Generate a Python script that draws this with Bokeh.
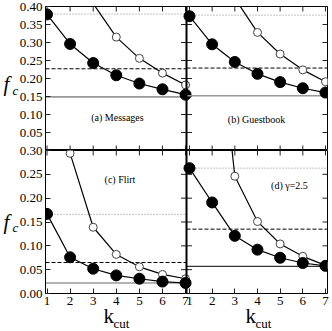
import math
from bokeh.plotting import figure
from bokeh.models import Range1d, LinearAxis, FixedTicker, PrintfTickFormatter, Label, Span
from bokeh.layouts import column, row
from bokeh.embed import file_html
from bokeh.resources import INLINE

# ---------------- data ----------------
k = [1, 2, 3, 4, 5, 6, 7]
x_ticks = [1, 2, 3, 4, 5, 6, 7]
top_yticks = [0.05, 0.10, 0.15, 0.20, 0.25, 0.30, 0.35, 0.40]
bottom_yticks = [0.00, 0.05, 0.10, 0.15, 0.20, 0.25, 0.30]

# (a) Messages
a_filled = [0.378, 0.296, 0.243, 0.209, 0.186, 0.170, 0.155]
a_open_k = [3, 4, 5, 6, 7]
a_open = [0.408, 0.315, 0.256, 0.215, 0.182]
a_refs = [0.379, 0.227, 0.149]          # dotted, dashed, solid

# (b) Guestbook
b_filled = [0.373, 0.295, 0.246, 0.213, 0.190, 0.173, 0.161]
b_open_k = [3, 4, 5, 6, 7]
b_open = [0.423, 0.328, 0.268, 0.224, 0.191]
b_refs = [0.376, 0.229, 0.152]

# (c) Flirt
c_filled = [0.167, 0.076, 0.052, 0.038, 0.031, 0.025, 0.022]
c_open_k = [2, 3, 4, 5, 6, 7]
c_open = [0.294, 0.139, 0.082, 0.056, 0.040, 0.031]
c_refs = [0.166, 0.065, 0.022]

# (d) gamma = 2.5
d_filled = [0.263, 0.191, 0.121, 0.092, 0.075, 0.064, 0.058]
d_open_k = [2, 3, 4, 5, 6, 7]
d_open = [0.69, 0.246, 0.151, 0.104, 0.078, 0.059]
d_refs = [0.263, 0.135, 0.057]

labels = ["(a) Messages", "(b) Guestbook", "(c) Flirt", "(d) \u03b3=2.5"]

# ---------------- layout ----------------
SERIF = "Liberation Serif"
L_panel = (0.935, 7.04)
R_panel = (0.868, 7.09)
L_full = (L_panel[0], L_panel[0] + 2 * (L_panel[1] - L_panel[0]))
R_full = (R_panel[0] - (R_panel[1] - R_panel[0]), R_panel[1])


def to_left(v):
    f = (v - R_full[0]) / (R_full[1] - R_full[0])
    return round(L_full[0] + f * (L_full[1] - L_full[0]), 6)


right_tick_pos = [to_left(t) for t in x_ticks]
all_xt = [float(t) for t in x_ticks] + right_tick_pos
xt_overrides = {float(t): str(t) for t in x_ticks}
xt_overrides.update({pos: str(t) for pos, t in zip(right_tick_pos, x_ticks)})

TICK = "#222222"


def style_axis(ax):
    ax.axis_line_color = "black"
    ax.axis_line_width = 1
    ax.major_tick_in = 5
    ax.major_tick_out = 0
    ax.minor_tick_line_color = None
    ax.major_tick_line_color = TICK
    ax.major_label_text_font = SERIF
    ax.major_label_text_font_size = "13px"
    ax.major_label_standoff = 3
    ax.major_label_text_color = "black"


def draw_panel(p, rn, panel, filled, open_k, open_v, refs, solid_color, solid_w,
               text, tx, ty, ymax):
    x0 = [panel[0]]
    x1 = [panel[1]]
    p.segment(x0=x0, x1=x1, y0=[refs[0]], y1=[refs[0]], x_range_name=rn,
              line_color="#888888", line_width=1, line_dash="1 2")
    p.segment(x0=x0, x1=x1, y0=[refs[1]], y1=[refs[1]], x_range_name=rn,
              line_color="black", line_width=1, line_dash="4 2")
    p.segment(x0=x0, x1=x1, y0=[refs[2]], y1=[refs[2]], x_range_name=rn,
              line_color=solid_color, line_width=solid_w)
    p.line(open_k, open_v, x_range_name=rn, line_color="black", line_width=1.2)
    p.line(k, filled, x_range_name=rn, line_color="black", line_width=1.2)
    vis = [(kk, v) for kk, v in zip(open_k, open_v) if v <= ymax]
    p.scatter([q[0] for q in vis], [q[1] for q in vis], x_range_name=rn,
              marker="circle", size=8, fill_color="white", line_color="#444444",
              line_width=1)
    p.scatter(k, filled, x_range_name=rn, marker="circle", size=11,
              fill_color="black", line_color="black")
    p.add_layout(Label(x=tx, y=ty, x_range_name=rn, text=text, text_font=SERIF,
                       text_font_size="10px", text_align="center",
                       text_baseline="middle", text_color="black"))


def edge_ticks(p, ymax, yticks, bottom_axis):
    ys = [ymax] if bottom_axis else [ymax, 0.0]
    for yy in ys:
        for rn in ("default", "R"):
            p.scatter(x_ticks, [yy] * len(x_ticks), x_range_name=rn, marker="dash",
                      angle=math.pi / 2, size=10, line_color=TICK, line_width=1)
    p.scatter([R_panel[1]] * len(yticks), yticks, x_range_name="R", marker="dash",
              size=10, line_color=TICK, line_width=1)
    p.scatter([L_panel[1]] * len(yticks), yticks, marker="dash", size=11,
              line_color=TICK, line_width=1)


def make_row(ymax, yticks, frame_h, top_b, bottom_b, margin, is_bottom):
    p = figure(frame_width=282, frame_height=frame_h,
               x_range=Range1d(*L_full), y_range=Range1d(0, ymax),
               x_axis_type=None, y_axis_type=None,
               output_backend="svg", toolbar_location=None,
               min_border_left=29, min_border_right=3,
               min_border_top=top_b, min_border_bottom=bottom_b,
               margin=margin)
    p.extra_x_ranges = {"R": Range1d(*R_full)}
    p.outline_line_color = "black"
    p.background_fill_color = "white"
    p.border_fill_color = None
    if is_bottom:
        below = LinearAxis(ticker=FixedTicker(ticks=all_xt),
                           major_label_overrides=xt_overrides)
        style_axis(below)
        p.add_layout(below, "below")
    left = LinearAxis(ticker=FixedTicker(ticks=yticks),
                      formatter=PrintfTickFormatter(format="%.2f"))
    style_axis(left)
    p.add_layout(left, "left")

    p.add_layout(Span(location=L_panel[1], dimension="height",
                      line_color="black", line_width=2))
    edge_ticks(p, ymax, yticks, is_bottom)
    return p


def text_strip(w, h, margin, **borders):
    s = figure(frame_width=w, frame_height=h, x_range=Range1d(0, 1), y_range=Range1d(0, 1),
               x_axis_type=None, y_axis_type=None, output_backend="svg",
               toolbar_location=None, min_border=0, margin=margin, **borders)
    s.outline_line_color = None
    s.background_fill_color = None
    s.border_fill_color = None
    return s


top = make_row(0.40, top_yticks, 144, 6, 0, (0, 0, 0, 0), False)
draw_panel(top, "default", L_panel, a_filled, a_open_k, a_open, a_refs, "#999999", 1.6,
           labels[0], 4.05, 0.092, 0.40)
draw_panel(top, "R", R_panel, b_filled, b_open_k, b_open, b_refs, "#999999", 1.6,
           labels[1], 3.96, 0.087, 0.40)

bottom = make_row(0.30, bottom_yticks, 143, 7, 17, (-7, 0, 0, 0), True)
draw_panel(bottom, "default", L_panel, c_filled, c_open_k, c_open, c_refs, "#999999", 1.6,
           labels[2], 4.16, 0.240, 0.30)
draw_panel(bottom, "R", R_panel, d_filled, d_open_k, d_open, d_refs, "#333333", 1.2,
           labels[3], 5.41, 0.226, 0.30)

# strip holding the x-axis titles  k_cut (its frame lines up with the panels)
k_strip = text_strip(282, 29, (-8, 0, 0, 0), min_border_left=29, min_border_right=3,
                     min_border_top=0, min_border_bottom=0)
for xk in (58, 200):
    k_strip.add_layout(Label(x=xk, y=16, x_units="screen", y_units="screen", text="k",
                             text_font=SERIF, text_font_size="21px",
                             text_baseline="alphabetic", text_color="black"))
    k_strip.add_layout(Label(x=xk + 10, y=8, x_units="screen", y_units="screen", text="cut",
                             text_font=SERIF, text_font_size="13px",
                             text_baseline="alphabetic", text_color="black"))

# strip holding the y-axis titles  f_c
f_strip = text_strip(20, 331, (0, 0, 0, 0), min_border_left=0, min_border_right=0,
                     min_border_top=0, min_border_bottom=0)
for fy, cy in ((248, 241), (110, 104)):
    f_strip.add_layout(Label(x=3, y=fy, x_units="screen", y_units="screen", text="f",
                             text_font=SERIF, text_font_style="italic",
                             text_font_size="21px", text_baseline="alphabetic",
                             text_color="black"))
    f_strip.add_layout(Label(x=12, y=cy, x_units="screen", y_units="screen", text="c",
                             text_font=SERIF, text_font_style="italic",
                             text_font_size="13px", text_baseline="alphabetic",
                             text_color="black"))

layout = row(f_strip, column(top, bottom, k_strip, spacing=0, margin=(0, 0, 0, -4)),
             spacing=0)
open("out.html", "w").write(file_html(layout, INLINE))
